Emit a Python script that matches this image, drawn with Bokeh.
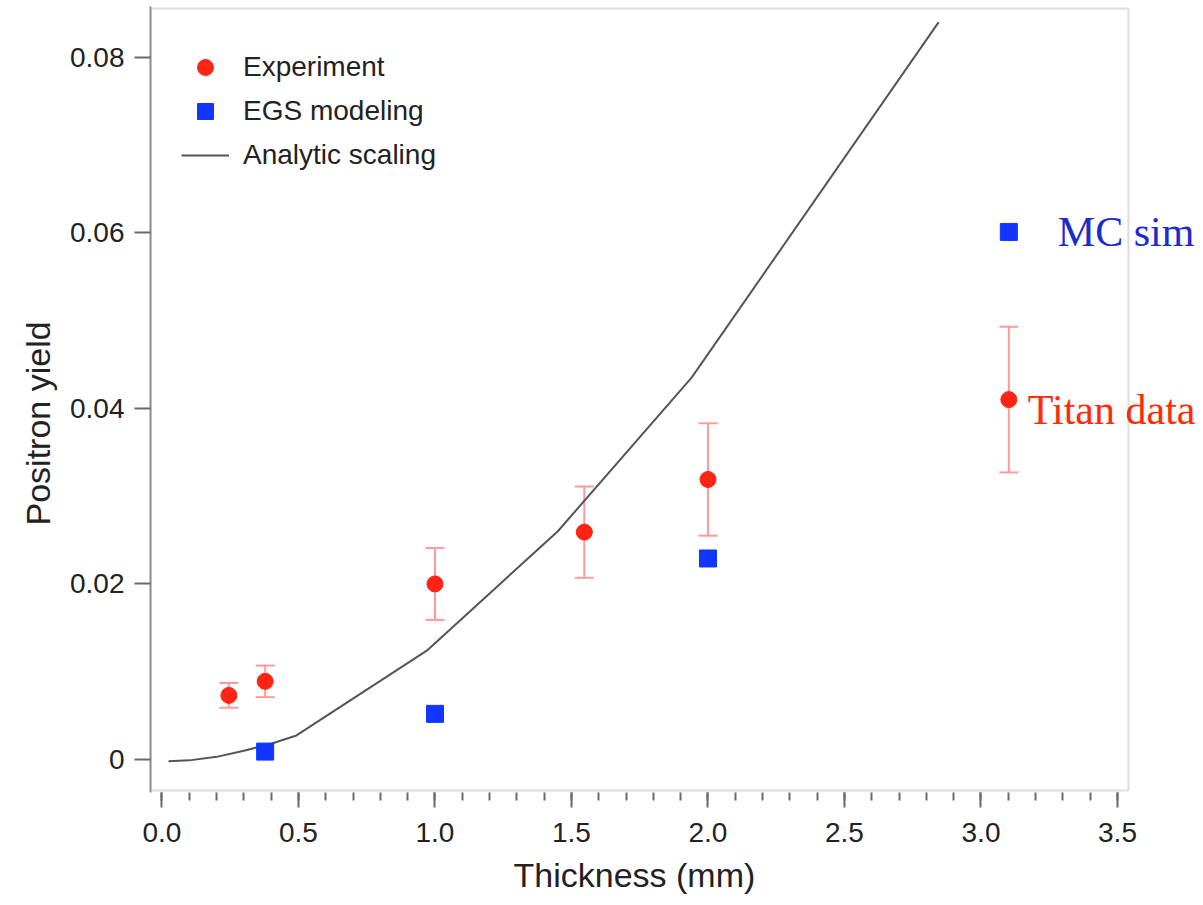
from bokeh.plotting import figure
from bokeh.models import (ColumnDataSource, Range1d, FixedTicker, CustomJSTickFormatter,
                          PrintfTickFormatter, Whisker, TeeHead, Legend, LegendItem, Label,
                          BoxAnnotation, Title)
from bokeh.embed import file_html
from bokeh.resources import INLINE

# ---------------- data ----------------
exp_x = [0.245, 0.378, 1.0, 1.547, 2.0, 3.102]
exp_y = [0.0073, 0.0089, 0.0200, 0.0259, 0.0319, 0.0410]
exp_err = [0.0014, 0.0018, 0.0041, 0.0052, 0.0064, 0.0083]

egs_x = [0.378, 1.0, 2.0, 3.102]
egs_y = [0.0009, 0.0052, 0.0229, 0.0601]

line_x = [0.024, 0.1, 0.2, 0.3, 0.4, 0.49, 0.97, 1.45, 1.94, 2.845]
line_y = [-0.0002, -0.0001, 0.0003, 0.0010, 0.0018, 0.0027, 0.0124, 0.0260, 0.0435, 0.0840]

x_ticks = [0.0, 0.5, 1.0, 1.5, 2.0, 2.5, 3.0, 3.5]
x_minor_ticks = [i / 10 for i in range(0, 36)]
y_ticks = [0.0, 0.02, 0.04, 0.06, 0.08]

series_names = ["Experiment", "EGS modeling", "Analytic scaling"]
x_title = "Thickness (mm)"
y_title = "Positron yield"
note_mc = "MC sim"
note_titan = "Titan data"

# plot box (axes extent) and drawing extent
BOX_X = (-0.042, 3.540)
BOX_Y = (-0.00353, 0.08555)

# ---------------- styling ----------------
RED = "#ff2414"
ERR = "#ff9a9a"
BLUE = "#1236ff"
GRAY = "#8f8f8f"
TXT = "#222222"
SANS = "Liberation Sans"

p = figure(width=1203, height=905, output_backend="svg", toolbar_location=None,
           x_range=Range1d(-0.042, 3.815), y_range=Range1d(-0.00376, 0.08578),
           min_border_left=150, min_border_right=0, min_border_top=6, min_border_bottom=113)
p.xgrid.visible = False
p.ygrid.visible = False
p.outline_line_color = None
p.background_fill_color = "white"
p.border_fill_color = "white"

# axes frame box
p.add_layout(BoxAnnotation(left=BOX_X[0], right=BOX_X[1], bottom=BOX_Y[0], top=BOX_Y[1],
                           fill_alpha=0, line_color=GRAY, line_width=2, level="underlay"))

# axes
xa = p.xaxis[0]
xa.ticker = FixedTicker(ticks=x_ticks, minor_ticks=x_minor_ticks)
xa.formatter = PrintfTickFormatter(format="%.1f")
ya = p.yaxis[0]
ya.ticker = FixedTicker(ticks=y_ticks)
ya.formatter = CustomJSTickFormatter(code="return tick == 0 ? '0' : tick.toFixed(2);")

for ax in (xa, ya):
    ax.axis_line_color = GRAY
    ax.axis_line_width = 2
    ax.major_tick_line_color = "#6a6a6a"
    ax.major_tick_line_width = 2
    ax.minor_tick_line_color = "#6a6a6a"
    ax.minor_tick_line_width = 2
    ax.major_tick_in = 0
    ax.minor_tick_in = 0
    ax.major_label_text_font = SANS
    ax.major_label_text_font_size = "28px"
    ax.major_label_text_color = TXT

xa.axis_line_color = None
xa.major_tick_out = 15
xa.minor_tick_out = 8
xa.major_label_standoff = 15

ya.major_tick_out = 16
ya.minor_tick_line_color = None
ya.major_label_standoff = 10

# axis titles, placed relative to the plot box
p.add_layout(Title(text=x_title, align="left", offset=363, standoff=19,
                   text_font=SANS, text_font_size="34px", text_font_style="normal",
                   text_color=TXT), "below")
p.add_layout(Title(text=y_title, align="left", offset=267, standoff=22,
                   text_font=SANS, text_font_size="34px", text_font_style="normal",
                   text_color=TXT), "left")

# analytic line
r_line = p.line(line_x, line_y, line_color="#555555", line_width=2)

# error bars
src_exp = ColumnDataSource(dict(x=exp_x, y=exp_y,
                                upper=[y + e for y, e in zip(exp_y, exp_err)],
                                lower=[y - e for y, e in zip(exp_y, exp_err)]))
wh = Whisker(source=src_exp, base="x", upper="upper", lower="lower",
             line_color=ERR, line_width=2,
             upper_head=TeeHead(size=19, line_color=ERR, line_width=2),
             lower_head=TeeHead(size=19, line_color=ERR, line_width=2))
p.add_layout(wh)

r_exp = p.scatter("x", "y", source=src_exp, marker="circle", size=16,
                  fill_color=RED, line_color=RED)
r_egs = p.scatter(egs_x, egs_y, marker="square", size=17,
                  fill_color=BLUE, line_color=BLUE)

# annotations next to the last points
p.add_layout(Label(x=egs_x[-1], y=egs_y[-1], x_offset=49, y_offset=0, text=note_mc,
                   text_font="Liberation Serif", text_font_size="42px",
                   text_color="#1a2ccc", text_baseline="alphabetic"))
p.add_layout(Label(x=exp_x[-1], y=exp_y[-1], x_offset=19, y_offset=-10, text=note_titan,
                   text_font="Liberation Serif", text_font_size="42px",
                   text_color="#ff2a0a", text_baseline="alphabetic"))

legend = Legend(items=[LegendItem(label=series_names[0], renderers=[r_exp]),
                       LegendItem(label=series_names[1], renderers=[r_egs]),
                       LegendItem(label=series_names[2], renderers=[r_line])],
                location=(31, 617), margin=0, padding=0,
                glyph_width=48, glyph_height=40, label_height=40, spacing=4,
                label_standoff=14, label_text_font=SANS, label_text_font_size="28px",
                label_text_color=TXT, label_text_baseline="middle",
                border_line_color=None, background_fill_alpha=0)
p.add_layout(legend)

open("out.html", "w").write(file_html(p, INLINE))
